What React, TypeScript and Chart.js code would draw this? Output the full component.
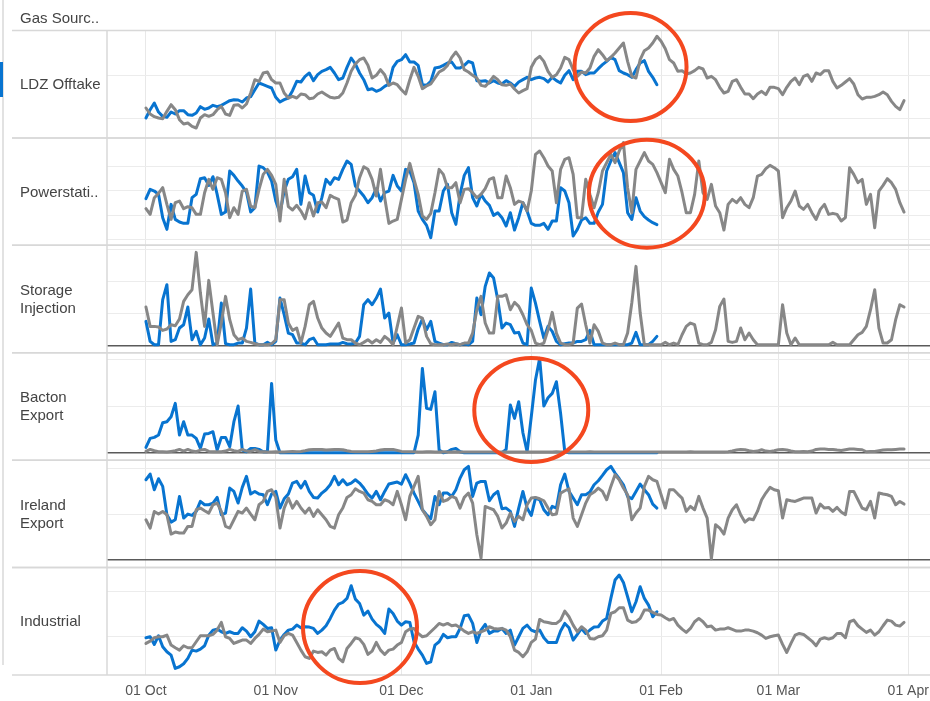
import React, { useEffect, useRef } from 'react';
import { Chart, registerables } from 'chart.js';

Chart.register(...registerables);

// ---------------- data ----------------
const HEADER_LABEL = 'Gas Sourc..';
const SOURCES = ['LDZ Offtake', 'Powerstati..', 'Storage\nInjection', 'Bacton\nExport', 'Ireland\nExport', 'Industrial'];
// days counted from 01 Oct
const MONTH_TICKS = [0, 31, 61, 92, 123, 151, 182];
const MONTH_LABELS = ['01 Oct', '01 Nov', '01 Dec', '01 Jan', '01 Feb', '01 Mar', '01 Apr'];

const ldzCurrent = [
  130, 155, 175, 148, 135, 132, 148, 142, 152, 152,
  140, 138, 145, 164, 156, 160, 168, 164, 168, 175,
  182, 185, 184, 178, 190, 194, 215, 235, 230, 225,
  220, 192, 178, 185, 190, 212, 240, 238, 255, 265,
  242, 260, 270, 275, 282, 265, 245, 250, 282, 310,
  292, 265, 245, 215, 218, 210, 215, 225, 232, 282,
  300, 305, 320, 298, 298, 288, 230, 228, 240, 280,
  282, 288, 295, 298, 280, 280, 288, 300, 295, 242,
  240, 242, 235, 242, 235, 232, 242, 235, 225, 238,
  245, 252, 245, 250, 252, 248, 238, 252, 242, 235,
  258, 272, 245, 270, 270, 260, 265, 265, 278, 290,
  300, 312, 305, 272, 265, 260, 252, 275, 295, 302,
  270, 252, 230,
];
const ldzPrevious = [
  160, 142, 134, 130, 128, 150, 170, 155, 125, 112,
  115, 105, 100, 130, 140, 135, 140, 155, 165, 142,
  138, 168, 170, 160, 172, 205, 245, 240, 265, 268,
  245, 235, 235, 205, 190, 195, 190, 202, 200, 188,
  190, 202, 208, 200, 192, 190, 192, 205, 235, 270,
  292, 305, 310, 288, 250, 258, 275, 260, 228, 235,
  230, 215, 202, 245, 282, 255, 218, 226, 232, 250,
  268, 275, 288, 312, 328, 310, 275, 268, 258, 250,
  228, 225, 238, 255, 245, 230, 228, 232, 217, 205,
  212, 218, 282, 305, 315, 300, 270, 252, 260, 280,
  312, 305, 275, 255, 268, 265, 280, 315, 335, 320,
  302, 312, 325, 340, 355, 300, 255, 250, 305, 332,
  340, 355, 375, 360, 338, 305, 295, 270, 272, 262,
  265, 272, 282, 277, 250, 255, 245, 222, 205, 210,
  240, 245, 222, 202, 202, 188, 202, 210, 200, 222,
  222, 218, 200, 222, 240, 250, 230, 255, 260, 240,
  265, 260, 272, 272, 240, 220, 228, 238, 248, 232,
  200, 187, 192, 192, 195, 200, 208, 200, 180, 165,
  155, 182,
];

const powerCurrent = [
  212, 240, 235, 225, 155, 120, 195, 150, 142, 138,
  138, 215, 225, 272, 275, 252, 278, 225, 165, 172,
  295, 282, 265, 250, 232, 172, 185, 310, 305, 292,
  265, 205, 168, 235, 270, 278, 300, 195, 280, 230,
  222, 172, 215, 270, 255, 275, 270, 300, 325, 315,
  250, 235, 220, 200, 215, 242, 205, 230, 235, 282,
  250, 235, 300, 295, 260, 175, 150, 132, 95, 175,
  175, 235, 255, 170, 135, 225, 282, 305, 215, 190,
  225, 205, 192, 162, 170, 155, 130, 170, 118, 155,
  200, 175, 138, 132, 132, 138, 120, 145, 145, 245,
  235, 200, 100, 120, 148, 155, 138, 138, 172, 195,
  295, 325, 350, 320, 290, 170, 150, 215, 175, 158,
  148, 140, 134,
];
const powerPrevious = [
  182, 165, 215, 228, 245, 195, 150, 200, 205, 182,
  188, 185, 165, 165, 230, 270, 240, 275, 270, 230,
  155, 185, 165, 235, 240, 190, 185, 240, 285, 300,
  282, 255, 145, 270, 188, 178, 192, 175, 152, 200,
  160, 200, 202, 185, 222, 215, 210, 142, 148, 200,
  222, 275, 308, 300, 270, 220, 300, 215, 138, 145,
  150, 210, 270, 318, 270, 225, 160, 150, 168, 230,
  300, 285, 245, 245, 260, 200, 240, 242, 230, 215,
  225, 242, 270, 275, 215, 215, 280, 245, 195, 205,
  200, 175, 235, 345, 355, 335, 310, 295, 200, 300,
  330, 335, 285, 155, 155, 270, 225, 185, 230, 295,
  320, 345, 320, 355, 380, 245, 170, 300, 325, 350,
  325, 315, 290, 260, 230, 330, 300, 280, 230, 170,
  170, 225, 325, 230, 210, 255, 190, 170, 118, 195,
  210, 200, 215, 195, 185, 215, 280, 285, 302, 312,
  305, 295, 155, 185, 205, 235, 190, 180, 195, 170,
  150, 180, 195, 165, 168, 165, 145, 155, 305, 285,
  260, 270, 195, 225, 125, 235, 252, 272, 260, 240,
  200, 172,
];

const storageCurrent = [
  72, 12, 2, 2, 137, 182, 12, 17, 52, 62,
  115, 17, 42, 2, 22, 79, 2, 7, 127, 5,
  2, 2, 7, 7, 52, 169, 7, 2, 2, 9,
  2, 12, 142, 92, 37, 32, 7, 7, 2, 17,
  22, 2, 2, 2, 4, 4, 4, 9, 5, 4,
  7, 27, 122, 137, 122, 142, 169, 82, 97, 7,
  32, 2, 2, 4, 7, 49, 79, 47, 72, 12,
  7, 2, 2, 9, 5, 2, 5, 2, 12, 142,
  92, 177, 217, 202, 137, 52, 67, 62, 37, 39,
  7, 2, 172, 127, 72, 22, 57, 42, 12, 2,
  5, 7, 7, 12, 12, 17, 45, 2, 2, 2,
  2, 2, 2, 2, 2, 2, 7, 39, 2, 2,
  2, 12, 27,
];
const storagePrevious = [
  115, 57, 57, 55, 45, 49, 62, 59, 79, 132,
  152, 167, 279, 157, 57, 195, 97, 2, 67, 147,
  77, 32, 17, 22, 12, 9, 5, 2, 2, 2,
  5, 17, 137, 137, 67, 45, 52, 7, 57, 122,
  132, 82, 52, 37, 27, 47, 67, 22, 17, 17,
  7, 2, 9, 17, 7, 17, 9, 27, 17, 2,
  57, 112, 7, 17, 52, 87, 82, 27, 5, 2,
  2, 2, 4, 2, 5, 2, 7, 7, 37, 107,
  147, 67, 37, 37, 147, 147, 152, 107, 129, 117,
  92, 62, 45, 7, 2, 7, 47, 99, 37, 7,
  2, 2, 7, 112, 124, 62, 7, 62, 42, 7,
  2, 2, 7, 2, 2, 37, 127, 237, 97, 2,
  2, 2, 2, 2, 9, 2, 7, 2, 32, 57,
  67, 62, 7, 2, 2, 9, 47, 117, 139, 12,
  9, 12, 52, 17, 37, 17, 2, 2, 2, 2,
  2, 2, 122, 37, 2, 22, 2, 2, 2, 2,
  2, 2, 2, 2, 9, 2, 2, 2, 2, 17,
  32, 39, 57, 107, 167, 52, 7, 7, 17, 77,
  122, 115,
];

const bactonCurrent = [
  16, 43, 46, 53, 90, 93, 108, 148, 53, 93,
  53, 53, 43, 13, 56, 58, 63, 8, 46, 46,
  18, 93, 140, 8, 3, 13, 13, 10, 3, 3,
  208, 38, 0, 0, 0, 0, 0, 0, 0, 0,
  0, 0, 0, 0, 0, 0, 0, 0, 0, 0,
  0, 0, 0, 0, 0, 0, 0, 0, 0, 0,
  0, 0, 0, 0, 0, 53, 253, 133, 130, 183,
  8, 0, 3, 10, 13, 3, 0, 0, 0, 0,
  0, 0, 0, 0, 0, 0, 10, 143, 103, 153,
  60, 3, 108, 218, 283, 140, 165, 178, 213, 118,
  3, 0, 0, 0, 0, 0, 0, 0, 0, 0,
  0, 0, 0, 0, 0, 0, 0, 0, 0, 0,
  0, 0, 0,
];
const bactonPrevious = [
  4, 10, 6, 3, 3, 2, 4, 6, 10, 5,
  10, 5, 3, 8, 10, 4, 3, 3, 3, 5,
  10, 6, 4, 10, 5, 4, 9, 4, 3, 2,
  2, 3, 2, 2, 3, 4, 3, 4, 6, 9,
  10, 10, 10, 8, 9, 10, 10, 9, 6, 4,
  3, 3, 3, 3, 4, 5, 8, 10, 10, 10,
  7, 4, 3, 3, 3, 2, 2, 3, 3, 2,
  2, 3, 2, 2, 3, 2, 2, 2, 2, 2,
  2, 2, 2, 2, 2, 2, 2, 2, 2, 2,
  2, 2, 2, 2, 2, 2, 2, 2, 3, 2,
  2, 2, 2, 2, 2, 2, 3, 2, 2, 2,
  2, 2, 2, 2, 2, 2, 2, 2, 2, 2,
  2, 2, 2, 2, 2, 2, 2, 2, 2, 2,
  3, 2, 2, 2, 2, 2, 2, 2, 2, 3,
  5, 8, 10, 9, 6, 4, 5, 9, 5, 4,
  6, 9, 10, 8, 5, 3, 3, 4, 3, 5,
  10, 11, 11, 10, 10, 8, 7, 9, 11, 11,
  10, 9, 3, 4, 4, 6, 8, 9, 9, 10,
  11, 11,
];

const irelandCurrent = [
  241, 258, 211, 244, 221, 136, 114, 121, 191, 126,
  138, 134, 146, 176, 166, 166, 171, 188, 136, 141,
  216, 206, 171, 218, 251, 198, 206, 198, 196, 166,
  198, 206, 156, 184, 198, 231, 236, 216, 236, 206,
  188, 186, 201, 211, 226, 251, 226, 241, 226, 231,
  241, 231, 216, 198, 186, 206, 181, 206, 228, 231,
  234, 228, 256, 231, 201, 176, 151, 136, 124, 191,
  166, 201, 201, 191, 211, 246, 271, 281, 191, 231,
  236, 236, 178, 196, 206, 154, 156, 146, 101, 156,
  206, 156, 134, 186, 181, 151, 136, 161, 156, 226,
  258, 206, 186, 166, 196, 196, 204, 226, 238, 254,
  271, 281, 261, 244, 226, 191, 184, 206, 228, 211,
  196, 168, 156,
];
const irelandPrevious = [
  121, 96, 146, 138, 146, 136, 78, 84, 81, 81,
  101, 101, 151, 156, 148, 141, 166, 171, 146, 101,
  96, 121, 146, 141, 156, 138, 121, 166, 176, 206,
  211, 188, 96, 156, 186, 156, 176, 156, 141, 156,
  131, 151, 136, 121, 101, 96, 136, 156, 188, 196,
  214, 206, 201, 181, 176, 166, 166, 181, 176, 166,
  206, 166, 121, 191, 221, 251, 151, 131, 106, 121,
  206, 176, 181, 191, 186, 156, 188, 201, 171, 76,
  6, 161, 156, 151, 131, 96, 111, 141, 116, 131,
  121, 166, 186, 188, 184, 178, 156, 136, 138, 201,
  208, 214, 126, 101, 136, 171, 196, 204, 216, 206,
  181, 221, 256, 241, 216, 196, 121, 141, 156, 221,
  251, 241, 236, 196, 156, 211, 211, 198, 186, 146,
  161, 151, 191, 156, 126, 4, 106, 96, 78, 126,
  151, 166, 136, 114, 124, 121, 146, 181, 201, 218,
  211, 208, 126, 181, 178, 176, 181, 186, 186, 186,
  141, 168, 156, 158, 146, 158, 144, 136, 206, 206,
  181, 156, 151, 176, 126, 201, 198, 196, 191, 166,
  176, 168,
];

const industrialCurrent = [
  182, 185, 162, 188, 155, 140, 130, 90, 95, 104,
  120, 145, 142, 148, 158, 190, 205, 208, 200, 195,
  200, 195, 195, 212, 202, 185, 200, 232, 222, 210,
  212, 145, 175, 192, 205, 208, 220, 212, 215, 214,
  210, 195, 205, 218, 240, 265, 283, 288, 300, 338,
  298, 285, 250, 262, 238, 222, 212, 195, 268, 255,
  232, 220, 230, 228, 170, 148, 130, 105, 110, 160,
  170, 192, 182, 185, 185, 210, 248, 250, 225, 168,
  205, 222, 195, 202, 202, 210, 195, 205, 160, 185,
  210, 220, 205, 200, 205, 182, 168, 168, 168, 202,
  225, 212, 175, 192, 210, 195, 205, 214, 215, 232,
  240, 300, 355, 370, 348, 305, 260, 290, 335, 300,
  280, 245, 260,
];
const industrialPrevious = [
  165, 172, 182, 185, 185, 190, 160, 152, 145, 158,
  152, 152, 170, 188, 188, 188, 192, 205, 228, 185,
  180, 165, 170, 175, 175, 165, 180, 192, 208, 200,
  202, 205, 168, 188, 195, 190, 168, 145, 125, 120,
  142, 138, 140, 130, 145, 150, 120, 110, 150, 165,
  182, 178, 162, 132, 142, 168, 145, 132, 145, 148,
  160, 168, 200, 208, 210, 195, 185, 188, 200, 212,
  225, 220, 225, 218, 220, 212, 202, 195, 200, 195,
  200, 205, 215, 210, 208, 210, 205, 185, 145, 138,
  125, 140, 168, 178, 237, 230, 228, 225, 225, 235,
  262, 245, 220, 200, 215, 205, 180, 178, 185, 188,
  205, 255, 260, 272, 272, 235, 228, 230, 240, 265,
  265, 258, 252, 250, 242, 235, 240, 220, 208, 198,
  210, 230, 240, 230, 215, 217, 205, 208, 208, 212,
  207, 202, 202, 205, 205, 202, 197, 190, 180, 185,
  188, 190, 162, 138, 165, 190, 195, 192, 182, 172,
  158, 178, 182, 178, 182, 195, 195, 182, 230, 235,
  218, 208, 198, 205, 190, 200, 218, 235, 232, 220,
  217, 228,
];

const CURRENT = [ldzCurrent, powerCurrent, storageCurrent, bactonCurrent, irelandCurrent, industrialCurrent];
const PREVIOUS = [ldzPrevious, powerPrevious, storagePrevious, bactonPrevious, irelandPrevious, industrialPrevious];

// value ranges & gridline values of every panel
const PANEL_MIN = [70.3, 72.1, -22.1, -22.3, -22.5, 70.3];
const PANEL_MAX = [392.5, 394.3, 300.1, 299.9, 299.7, 392.5];
const PANEL_GRID = [[130, 257], [90, 163, 237, 310], [0, 96, 192, 288], [0, 140, 280], [0, 138, 276], [185, 320]];

// highlighted regions (panel, day, value)
const HIGHLIGHT_PANEL = [0, 1, 3, 5];
const HIGHLIGHT_DAY = [115.7, 119.6, 92, 51.1];
const HIGHLIGHT_VALUE = [283, 227, 128, 214];

// ---------------- styling ----------------
const BLUE = '#0874d0';
const GRAY = '#878787';
const RED = '#f4481f';
const FONT = '"Liberation Sans", Arial, sans-serif';
const TOP = 30.5;
const AXIS_H = 26;
const PANEL_H = (701 - TOP - AXIS_H) / 6;
const RADII = [[56, 54], [58, 54], [57, 52], [57, 56]];

const framePlugin = {
  id: 'frame',
  beforeDatasetsDraw(chart: any) {
    const ctx = chart.ctx;
    const area = chart.chartArea;
    ctx.save();
    ctx.strokeStyle = '#d8d8d8';
    ctx.lineWidth = 1.5;
    const ys: number[] = [];
    for (let i = 0; i < 6; i++) {
      const s = chart.scales['y' + i];
      ys.push(s.top, s.bottom);
    }
    ys.forEach((y) => {
      ctx.beginPath();
      ctx.moveTo(12, y);
      ctx.lineTo(chart.width, y);
      ctx.stroke();
    });
    ctx.beginPath();
    ctx.moveTo(area.left, area.top);
    ctx.lineTo(area.left, area.bottom);
    ctx.stroke();
    ctx.restore();
  },
  afterDraw(chart: any) {
    const ctx = chart.ctx;
    const xs = chart.scales.x;
    ctx.save();
    ctx.strokeStyle = RED;
    ctx.lineWidth = 4;
    HIGHLIGHT_PANEL.forEach((p, i) => {
      const ys = chart.scales['y' + p];
      const cx = xs.getPixelForValue(HIGHLIGHT_DAY[i]);
      const cy = ys.getPixelForValue(HIGHLIGHT_VALUE[i]);
      ctx.beginPath();
      ctx.ellipse(cx, cy, RADII[i][0], RADII[i][1], 0, 0, Math.PI * 2);
      ctx.stroke();
    });
    ctx.restore();
  },
};

export default function App() {
  const ref = useRef<HTMLCanvasElement>(null);

  useEffect(() => {
    const datasets: any[] = [];
    const scales: any = {
      x: {
        type: 'linear',
        position: 'bottom',
        min: -9.3,
        max: 187.2,
        afterBuildTicks: (s: any) => {
          s.ticks = MONTH_TICKS.map((v) => ({ value: v }));
        },
        afterFit: (s: any) => {
          s.height = AXIS_H;
        },
        ticks: {
          autoSkip: false,
          maxRotation: 0,
          padding: 8,
          color: '#555',
          font: { family: FONT, size: 14 },
          callback: (v: number) => MONTH_LABELS[MONTH_TICKS.indexOf(v)] ?? '',
        },
        grid: { color: '#e8e8e8', lineWidth: 1, drawTicks: false },
        border: { display: false },
      },
    };
    for (let p = 0; p < 6; p++) {
      const id = 'y' + p;
      scales[id] = {
        type: 'linear',
        position: 'left',
        stack: 'panels',
        stackWeight: 1,
        weight: 6 - p,
        offset: false,
        min: PANEL_MIN[p],
        max: PANEL_MAX[p],
        afterBuildTicks: (s: any) => {
          s.ticks = PANEL_GRID[p].map((v) => ({ value: v }));
        },
        afterFit: (s: any) => {
          s.width = 0;
        },
        ticks: { display: false },
        grid: {
          drawTicks: false,
          color: (c: any) => (c.tick && c.tick.value === 0 ? '#5a5a5a' : '#ececec'),
          lineWidth: (c: any) => (c.tick && c.tick.value === 0 ? 1.5 : 1),
        },
        border: { display: false },
      };
      datasets.push({
        label: SOURCES[p] + ' previous',
        data: PREVIOUS[p].map((v, i) => ({ x: i, y: v })),
        yAxisID: id,
        xAxisID: 'x',
        borderColor: GRAY,
        borderWidth: 3,
        pointRadius: 0,
        tension: 0,
        borderJoinStyle: 'round',
        borderCapStyle: 'round',
        order: 0,
      });
      datasets.push({
        label: SOURCES[p] + ' current',
        data: CURRENT[p].map((v, i) => ({ x: i, y: v })),
        yAxisID: id,
        xAxisID: 'x',
        borderColor: BLUE,
        borderWidth: 3,
        pointRadius: 0,
        tension: 0,
        borderJoinStyle: 'round',
        borderCapStyle: 'round',
        order: 1,
      });
    }

    const chart = new Chart(ref.current as HTMLCanvasElement, {
      type: 'line',
      data: { datasets },
      options: {
        animation: false,
        responsive: false,
        events: [],
        layout: { padding: { left: 107, top: TOP, right: 30, bottom: 0 } },
        plugins: { legend: { display: false }, tooltip: { enabled: false } },
        scales,
      },
      plugins: [framePlugin],
    } as any);
    return () => chart.destroy();
  }, []);

  return (
    <div
      style={{
        position: 'absolute',
        left: 0,
        top: 0,
        width: 930,
        height: 701,
        overflow: 'hidden',
        background: '#fff',
        fontFamily: FONT,
        color: '#333',
      }}
    >
      <canvas ref={ref} width={960} height={701} style={{ position: 'absolute', left: 0, top: 0 }} />
      <div style={{ position: 'absolute', left: 2, top: 0, width: 2, height: 665, background: '#e2e2e2' }} />
      <div style={{ position: 'absolute', left: 0, top: 62, width: 3, height: 35, background: BLUE }} />
      <div style={{ position: 'absolute', left: 20, top: 9, fontSize: 15, color: '#444' }}>{HEADER_LABEL}</div>
      {SOURCES.map((s, i) => (
        <div
          key={s}
          style={{
            position: 'absolute',
            left: 20,
            top: TOP + i * PANEL_H,
            height: PANEL_H,
            width: 86,
            display: 'flex',
            alignItems: 'center',
            whiteSpace: 'pre-line',
            fontSize: 15,
            lineHeight: '18px',
            color: '#444',
          }}
        >
          {s}
        </div>
      ))}
    </div>
  );
}
